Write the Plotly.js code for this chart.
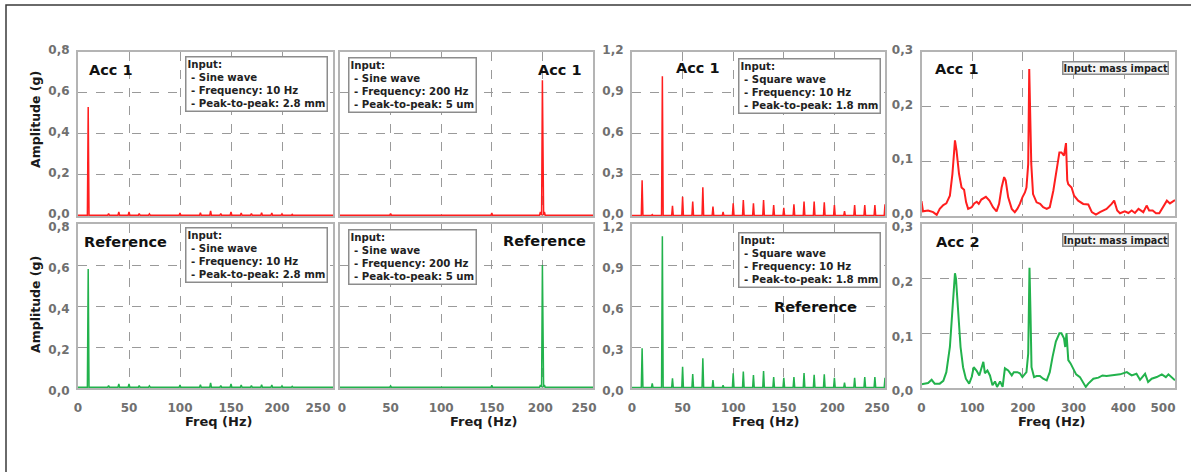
<!DOCTYPE html>
<html>
<head>
<meta charset="utf-8">
<script src="https://cdn.plot.ly/plotly-3.0.1.min.js"></script>
<style>html,body{margin:0;padding:0;background:#fff;}#chart{width:1191px;height:472px;}</style>
</head>
<body>
<div id="chart"></div>
<script>
// ---------------- DATA ----------------
// Sine wave 10 Hz, peak-to-peak 2.8 mm
const sine10PeakFreq = [10, 30, 40, 50, 60, 70, 80, 100, 120, 130, 140, 150, 160, 170, 180, 190, 200, 210];
const sine10Acc1Amp  = [0.53, 0.012, 0.02, 0.02, 0.012, 0.01, 0.006, 0.015, 0.016, 0.025, 0.012, 0.02, 0.015, 0.012, 0.016, 0.015, 0.01, 0.008];
const sine10RefAmp   = [0.58, 0.012, 0.02, 0.02, 0.012, 0.01, 0.006, 0.015, 0.016, 0.025, 0.012, 0.02, 0.015, 0.012, 0.016, 0.015, 0.01, 0.008];
const sine10Base = 0.004;

// Sine wave 200 Hz, peak-to-peak 5 um
const sine200PeakFreq = [50, 150, 198, 200, 202];
const sine200Acc1Amp  = [0.012, 0.015, 0.02, 0.66, 0.02];
const sine200RefAmp   = [0.01, 0.013, 0.015, 0.60, 0.015];
const sine200Base = 0.004;

// Square wave 10 Hz, peak-to-peak 1.8 mm
const squarePeakFreq = [10, 20, 30, 40, 50, 60, 70, 80, 90, 100, 110, 120, 130, 140, 150, 160, 170, 180, 190, 200, 210, 220, 230, 240, 250];
const squareAcc1Amp  = [0.26, 0.01, 1.02, 0.075, 0.14, 0.105, 0.21, 0.068, 0.03, 0.093, 0.117, 0.093, 0.117, 0.08, 0.06, 0.085, 0.105, 0.105, 0.1, 0.08, 0.035, 0.08, 0.08, 0.08, 0.085];
const squareRefAmp   = [0.29, 0.034, 1.11, 0.07, 0.156, 0.102, 0.217, 0.058, 0.02, 0.107, 0.12, 0.095, 0.125, 0.08, 0.075, 0.08, 0.11, 0.097, 0.1, 0.075, 0.04, 0.075, 0.08, 0.08, 0.075];
const squareBase = 0.003;

// Mass impact, Acc 1
const impactAcc1Freq = [0, 3, 13, 23, 30, 36, 43, 49, 56, 61, 64, 66, 69, 74, 79, 84, 88, 92, 99, 104, 109, 113, 118, 127, 134, 141, 148, 153, 158, 163, 166, 171, 178, 184, 189, 194, 199, 204, 207, 210.5, 212.5, 214.5, 216.5, 220, 227, 234, 240, 247, 253, 260, 266.5, 272, 276, 281, 285, 287.5, 289.5, 296, 301, 309, 319, 329, 336, 344, 352, 365, 375, 380, 386, 391.5, 401, 408, 414.5, 421, 428, 437.5, 444, 449, 456, 462.5, 469, 476, 484, 490, 500];
const impactAcc1Amp  = [0.027, 0.0085, 0.01, 0.007, 0.002, 0.013, 0.02, 0.023, 0.037, 0.077, 0.113, 0.138, 0.12, 0.077, 0.052, 0.048, 0.025, 0.013, 0.016, 0.023, 0.026, 0.022, 0.03, 0.035, 0.028, 0.016, 0.0085, 0.022, 0.052, 0.071, 0.065, 0.034, 0.013, 0.007, 0.013, 0.022, 0.034, 0.043, 0.052, 0.095, 0.268, 0.2, 0.095, 0.04, 0.025, 0.022, 0.016, 0.013, 0.016, 0.046, 0.089, 0.116, 0.116, 0.11, 0.133, 0.065, 0.058, 0.052, 0.037, 0.028, 0.022, 0.021, 0.007, 0.0025, 0.007, 0.013, 0.022, 0.028, 0.01, 0.005, 0.0085, 0.0055, 0.01, 0.0055, 0.013, 0.007, 0.019, 0.01, 0.01, 0.005, 0.005, 0.016, 0.028, 0.023, 0.029];

// Mass impact, Acc 2
const impactAcc2Freq = [0, 6.6, 13, 20, 26, 36, 43, 49, 56, 60.5, 64, 66, 68, 72, 77, 82, 87.5, 94, 99, 103, 108.5, 114, 118, 122, 125, 130, 135, 140, 145, 149, 155, 160, 164.5, 171, 178, 182, 189, 194, 199, 204, 207, 210.5, 213, 215, 217, 222, 227, 233.5, 240, 247, 253, 258.5, 265, 272, 276, 281, 283.5, 286, 289.5, 294, 299, 305, 312.5, 319, 324, 329, 339, 349, 357, 365, 378, 391.5, 405, 414.5, 424, 431, 441, 447, 454, 464, 474, 482, 487, 495.5, 500];
const impactAcc2Amp  = [0.007, 0.008, 0.009, 0.015, 0.008, 0.008, 0.013, 0.029, 0.075, 0.136, 0.194, 0.21, 0.2, 0.136, 0.075, 0.038, 0.017, 0.008, 0.02, 0.038, 0.032, 0.023, 0.036, 0.048, 0.027, 0.032, 0.023, 0.005, 0.012, 0.002, 0.012, 0.002, 0.036, 0.032, 0.023, 0.029, 0.029, 0.027, 0.02, 0.026, 0.029, 0.063, 0.22, 0.136, 0.038, 0.02, 0.022, 0.022, 0.017, 0.014, 0.029, 0.057, 0.085, 0.1, 0.1, 0.091, 0.075, 0.1, 0.051, 0.045, 0.036, 0.025, 0.02, 0.011, 0.002, 0.008, 0.017, 0.019, 0.023, 0.022, 0.023, 0.025, 0.029, 0.023, 0.026, 0.015, 0.026, 0.011, 0.017, 0.02, 0.025, 0.02, 0.025, 0.017, 0.014];

// Tick labels
const freqTicks250 = [0, 50, 100, 150, 200, 250];
const freqTicks500 = [0, 100, 200, 300, 400, 500];
const ampTicks08 = [0, 0.2, 0.4, 0.6, 0.8];
const ampTicks12 = [0, 0.3, 0.6, 0.9, 1.2];
const ampTicks03 = [0, 0.1, 0.2, 0.3];

// Text
const boxSine10 = 'Input:<br>\u00a0- Sine wave<br>\u00a0- Frequency: 10 Hz<br>\u00a0- Peak-to-peak: 2.8 mm';
const boxSine200 = 'Input:<br>\u00a0- Sine wave<br>\u00a0- Frequency: 200 Hz<br>\u00a0- Peak-to-peak: 5 um';
const boxSquare = 'Input:<br>\u00a0- Square wave<br>\u00a0- Frequency: 10 Hz<br>\u00a0- Peak-to-peak: 1.8 mm';
const boxImpact = 'Input: mass impact';

// ---------------- STYLE / LAYOUT ----------------
const W = 1191, H = 472;
const RED = '#ff1e1e', GREEN = '#22b24c';
const FONT = 'DejaVu Sans, Verdana, sans-serif';
const px = v => v / W;
const py = v => 1 - v / H;
const colX = [[px(78), px(333)], [px(340), px(593)], [px(632), px(885)], [px(921.5), px(1175)]];
const rowY = [[py(216), py(51.5)], [py(388), py(224)]];
const SPIKE_HW = 0.8;
// pixel offsets of the x tick labels (the reference pulls the right-most labels inside the frame)
const xLabelShift = [[0, 0, 0, 0, -5, -15], [2, 0, 0, 0, -2, -9], [0, 0, 0, 0, -2, -8], [0, 0, 0, 0, -1, -12]];
// pixel offsets of the y tick labels per row (positive = down on this build)
const yLabelShift = [-2, 3];

function spikeLine(freqs, amps, base, xmax) {
  const x = [0], y = [base];
  for (let i = 0; i < freqs.length; i++) {
    x.push(freqs[i] - SPIKE_HW, freqs[i], freqs[i] + SPIKE_HW);
    y.push(base, amps[i], base);
  }
  x.push(xmax); y.push(base);
  return {x, y};
}

const series = [
  Object.assign(spikeLine(sine10PeakFreq, sine10Acc1Amp, sine10Base, 250), {color: RED, w: 1.5}),
  Object.assign(spikeLine(sine200PeakFreq, sine200Acc1Amp, sine200Base, 250), {color: RED, w: 1.5}),
  Object.assign(spikeLine(squarePeakFreq, squareAcc1Amp, squareBase, 250), {color: RED, w: 1.5}),
  {x: impactAcc1Freq, y: impactAcc1Amp, color: RED, w: 2},
  Object.assign(spikeLine(sine10PeakFreq, sine10RefAmp, sine10Base, 250), {color: GREEN, w: 1.5}),
  Object.assign(spikeLine(sine200PeakFreq, sine200RefAmp, sine200Base, 250), {color: GREEN, w: 1.5}),
  Object.assign(spikeLine(squarePeakFreq, squareRefAmp, squareBase, 250), {color: GREEN, w: 1.5}),
  {x: impactAcc2Freq, y: impactAcc2Amp, color: GREEN, w: 2}
];

const traces = series.map((s, i) => ({
  type: 'scatter', mode: 'lines', x: s.x, y: s.y,
  line: {color: s.color, width: s.w},
  xaxis: 'x' + (i + 1), yaxis: 'y' + (i + 1),
  hoverinfo: 'x+y'
}));

const tickFont = {family: FONT, size: 12, color: '#707070', weight: 'bold'};
function axisBase() {
  return {
    showline: true, mirror: true, linecolor: '#b4b4b4', linewidth: 2,
    showgrid: true, gridcolor: '#9a9a9a', gridwidth: 1, griddash: 'dash',
    zeroline: false, ticks: '', tickfont: tickFont, fixedrange: true
  };
}

const layout = {
  width: W, height: H,
  margin: {l: 0, r: 0, t: 0, b: 0},
  paper_bgcolor: '#ffffff', plot_bgcolor: '#ffffff',
  showlegend: false,
  separators: ',.',
  font: {family: FONT},
  annotations: [], shapes: []
};

const xRanges = [[0, 250], [0, 250], [0, 250], [0, 500]];
const xTicks = [freqTicks250, freqTicks250, freqTicks250, freqTicks500];
const yRanges = [[0, 0.8], [0, 0.8], [0, 1.2], [0, 0.3]];
const yTicks = [ampTicks08, ampTicks08, ampTicks12, ampTicks03];

for (let r = 0; r < 2; r++) {
  for (let c = 0; c < 4; c++) {
    const n = r * 4 + c + 1;
    const xa = Object.assign(axisBase(), {
      domain: colX[c], anchor: 'y' + n, range: xRanges[c],
      tickmode: 'array', tickvals: xTicks[c], showticklabels: false
    });
    const ya = Object.assign(axisBase(), {
      domain: rowY[r], anchor: 'x' + n, range: yRanges[c],
      tickmode: 'array', tickvals: yTicks[c], tickformat: '.1f',
      showticklabels: c !== 1, ticklabelstandoff: 4,
      ticklabelshift: yLabelShift[r]
    });
    layout['xaxis' + (n === 1 ? '' : n)] = xa;
    layout['yaxis' + (n === 1 ? '' : n)] = ya;
  }
}

// Frequency tick labels of the bottom row, on overlaid label-only axes
for (let c = 0; c < 4; c++) {
  const base = 5 + c, n = 9 + c;
  const scale = (xRanges[c][1] - xRanges[c][0]) / ((colX[c][1] - colX[c][0]) * W);
  layout['xaxis' + n] = {
    overlaying: 'x' + base, anchor: 'y' + base, domain: colX[c], range: xRanges[c],
    showgrid: false, showline: false, zeroline: false, ticks: '', fixedrange: true,
    tickmode: 'array',
    tickvals: xTicks[c].map((v, i) => v + xLabelShift[c][i] * scale),
    ticktext: xTicks[c].map(String),
    tickfont: tickFont, ticklabelstandoff: 11
  };
  traces.push({type: 'scatter', mode: 'lines', x: [], y: [], xaxis: 'x' + n, yaxis: 'y' + base, hoverinfo: 'skip'});
}

// Panel labels
const labelFont = {family: FONT, size: 14.5, color: '#111', weight: 'bold'};
const panelLabels = [
  ['Acc 1', 111.5, 70], ['Acc 1', 560, 70], ['Acc 1', 698, 68], ['Acc 1', 956.5, 69],
  ['Reference', 125.5, 242], ['Reference', 544.5, 241], ['Reference', 815.5, 307], ['Acc 2', 957.5, 242]
];
panelLabels.forEach(([t, x, y]) => layout.annotations.push({
  text: t, x: px(x), y: py(y), xref: 'paper', yref: 'paper',
  xanchor: 'center', yanchor: 'middle', showarrow: false, font: labelFont
}));

// Input boxes
const boxFont = {family: FONT, size: 10.2, color: '#222', weight: 'bold'};
const boxes = [
  [boxSine10, 185, 56], [boxSine200, 348, 57], [boxSquare, 738, 58],
  [boxSine10, 185, 227], [boxSine200, 348, 229], [boxSquare, 738, 232]
];
boxes.forEach(([t, x, y]) => layout.annotations.push({
  text: t, x: px(x), y: py(y), xref: 'paper', yref: 'paper',
  xanchor: 'left', yanchor: 'top', align: 'left', showarrow: false,
  font: boxFont, bordercolor: '#8c8c8c', borderwidth: 1.5, borderpad: 1, bgcolor: '#ffffff'
}));
[[1169, 61], [1169, 233]].forEach(([x, y]) => layout.annotations.push({
  text: boxImpact, x: px(x), y: py(y), xref: 'paper', yref: 'paper',
  xanchor: 'right', yanchor: 'top', align: 'left', showarrow: false,
  font: {family: FONT, size: 9.6, color: '#222', weight: 'bold'},
  bordercolor: '#8c8c8c', borderwidth: 1.5, borderpad: 0, bgcolor: '#f4f4f4'
}));

// Axis titles
[120, 305].forEach(y => layout.annotations.push({
  text: 'Amplitude (g)', x: px(35), y: py(y), xref: 'paper', yref: 'paper',
  xanchor: 'center', yanchor: 'middle', textangle: -90, showarrow: false,
  font: {family: FONT, size: 12.5, color: '#1a1a1a', weight: 'bold'}
}));
[218.5, 483.5, 765.5, 1051.5].forEach(x => layout.annotations.push({
  text: 'Freq (Hz)', x: px(x), y: py(421), xref: 'paper', yref: 'paper',
  xanchor: 'center', yanchor: 'middle', showarrow: false,
  font: {family: FONT, size: 13, color: '#1a1a1a', weight: 'bold'}
}));

// Outer frame (left and top edges visible)
layout.shapes.push({
  type: 'path', xref: 'paper', yref: 'paper',
  path: `M ${px(6)},0 L ${px(6)},${py(5)} L 1,${py(5)}`,
  line: {color: '#3a3a3a', width: 1.5}
});

Plotly.newPlot('chart', traces, layout, {displayModeBar: false, staticPlot: true});
</script>
</body>
</html>
